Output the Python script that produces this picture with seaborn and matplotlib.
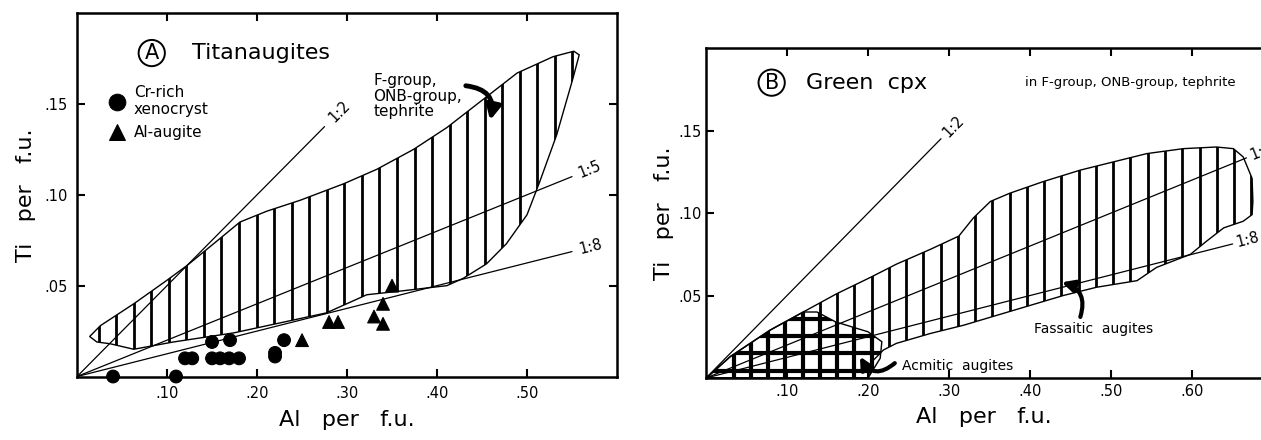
import numpy as np
import pandas as pd
import matplotlib.pyplot as plt
import seaborn as sns
from matplotlib.patches import Polygon

# ---- Panel A data: Titanaugites ----
CR_AL = [0.04, 0.11, 0.12, 0.128, 0.15, 0.17, 0.15, 0.159, 0.169, 0.18, 0.22, 0.22, 0.23]
CR_TI = [0.0, 0.0, 0.01, 0.01, 0.019, 0.02, 0.01, 0.01, 0.01, 0.01, 0.013, 0.011, 0.02]
AUG_AL = [0.25, 0.28, 0.29, 0.33, 0.34, 0.34, 0.35]
AUG_TI = [0.02, 0.03, 0.03, 0.033, 0.029, 0.04, 0.05]

# outline of the F-group / ONB-group / tephrite field (clockwise from left tip)
FIELD_A_X = [0.014, 0.026, 0.063, 0.100, 0.122, 0.159, 0.181, 0.211, 0.248, 0.296,
             0.333, 0.374, 0.411, 0.450, 0.489, 0.529, 0.552, 0.558, 0.551, 0.533,
             0.514, 0.500, 0.477, 0.455, 0.429, 0.411, 0.359, 0.322, 0.277, 0.174,
             0.107, 0.063, 0.037, 0.022]
FIELD_A_Y = [0.022, 0.028, 0.040, 0.053, 0.061, 0.076, 0.085, 0.091, 0.097, 0.106,
             0.114, 0.125, 0.137, 0.152, 0.167, 0.176, 0.179, 0.177, 0.164, 0.133,
             0.107, 0.089, 0.073, 0.062, 0.054, 0.050, 0.047, 0.045, 0.035, 0.024,
             0.019, 0.015, 0.018, 0.019]

# ---- Panel B data: Green cpx ----
FIELD_B_X = [0.0, 0.005, 0.030, 0.079, 0.120, 0.161, 0.203, 0.235, 0.277, 0.312,
             0.330, 0.351, 0.375, 0.416, 0.462, 0.503, 0.544, 0.589, 0.630, 0.651,
             0.663, 0.674, 0.675, 0.674, 0.663, 0.639, 0.618, 0.598, 0.577, 0.556,
             0.532, 0.482, 0.441, 0.400, 0.359, 0.318, 0.277, 0.235, 0.219, 0.205,
             0.200]
FIELD_B_Y = [0.0, 0.002, 0.013, 0.029, 0.040, 0.051, 0.061, 0.069, 0.078, 0.086,
             0.097, 0.107, 0.112, 0.119, 0.126, 0.131, 0.136, 0.139, 0.140, 0.139,
             0.134, 0.121, 0.107, 0.099, 0.095, 0.091, 0.083, 0.075, 0.071, 0.067,
             0.059, 0.055, 0.050, 0.044, 0.038, 0.032, 0.027, 0.021, 0.017, 0.010,
             0.0]
ACM_X = [0.0, 0.005, 0.030, 0.079, 0.120, 0.137, 0.160, 0.180, 0.200, 0.217, 0.215, 0.205, 0.200]
ACM_Y = [0.0, 0.002, 0.013, 0.029, 0.040, 0.040, 0.034, 0.031, 0.028, 0.022, 0.012, 0.004, 0.0]

# Ti:Al reference ratios and where each line stops
RATIOS = [2, 5, 8]
RATIO_LABELS = ["1:2", "1:5", "1:8"]
RATIO_END_A = [0.275, 0.55, 0.55]
RATIO_END_B = [0.29, 0.667, 0.65]

X_TICKS_A = [0.10, 0.20, 0.30, 0.40, 0.50]
X_LABELS_A = [".10", ".20", ".30", ".40", ".50"]
X_TICKS_B = [0.10, 0.20, 0.30, 0.40, 0.50, 0.60]
X_LABELS_B = [".10", ".20", ".30", ".40", ".50", ".60"]
Y_TICKS = [0.05, 0.10, 0.15]
Y_LABELS = [".05", ".10", ".15"]


def style_axes(ax, xlim, xticks, xlabels, show_right=True, xpad=7, ypad=7,
               xlabelpad=8, ylabelpad=6):
    ax.set_xlim(*xlim)
    ax.set_ylim(0, 0.2)
    ax.set_xticks(xticks, xlabels)
    ax.set_yticks(Y_TICKS, Y_LABELS)
    ax.tick_params(direction="in", length=6, width=1.5, top=True, right=show_right,
                   labelsize=10.5, colors="black")
    ax.tick_params(axis="x", pad=xpad)
    ax.tick_params(axis="y", pad=ypad)
    for sp in ax.spines.values():
        sp.set_linewidth(1.8)
        sp.set_color("black")
    if not show_right:
        ax.spines["right"].set_visible(False)
    ax.set_xlabel("Al   per   f.u.", fontsize=16, labelpad=xlabelpad, color="black")
    ax.set_ylabel("Ti   per   f.u.", fontsize=16, labelpad=ylabelpad, color="black")
    ax.grid(False)


def hatched_field(ax, xs, ys, start, step, lw, horizontal=None):
    poly = Polygon(np.column_stack([xs, ys]), closed=True, facecolor="none",
                   edgecolor="black", lw=1.0, zorder=3)
    ax.add_patch(poly)
    lc = ax.vlines(np.arange(start, max(xs), step), 0, 0.2, colors="black", lw=lw, zorder=2)
    lc.set_clip_path(poly)
    if horizontal is not None:
        h0, hstep = horizontal
        hc = ax.hlines(np.arange(h0, max(ys), hstep), 0, 1, colors="black", lw=lw, zorder=2)
        hc.set_clip_path(poly)
    return poly


def ratio_lines(ax, ends, label_dx):
    for r, lab, xe in zip(RATIOS, RATIO_LABELS, ends):
        ax.plot([0, xe], [0, xe / r], color="black", lw=0.9, zorder=4)
        # angle of the line on screen
        p0 = ax.transData.transform((0, 0))
        p1 = ax.transData.transform((xe, xe / r))
        ang = np.degrees(np.arctan2(p1[1] - p0[1], p1[0] - p0[0]))
        ax.text(xe + label_dx, (xe + label_dx) / r, lab, rotation=ang,
                rotation_mode="anchor", ha="left", va="center", fontsize=10.5, zorder=5)


sns.set_theme(style="ticks")
plt.rcParams["font.family"] = ["DejaVu Sans"]
plt.rcParams["text.color"] = "black"
plt.rcParams["axes.labelcolor"] = "black"

fig = plt.figure(figsize=(12.61, 4.4), dpi=100)
axA = fig.add_axes([0.0611, 0.1443, 0.4282, 0.826])
axB = fig.add_axes([0.5599, 0.1409, 0.4401, 0.750])

# ---------------- Panel A ----------------
hatched_field(axA, FIELD_A_X, FIELD_A_Y, 0.024, 0.0195, 2.0)

pts = pd.DataFrame({
    "Al": CR_AL + AUG_AL,
    "Ti": CR_TI + AUG_TI,
    "kind": ["Cr-rich\nxenocryst"] * len(CR_AL) + ["Al-augite"] * len(AUG_AL),
})
sns.scatterplot(data=pts, x="Al", y="Ti", style="kind",
                markers={"Cr-rich\nxenocryst": "o", "Al-augite": "^"},
                color="black", edgecolor="black", s=85, clip_on=False, zorder=6, ax=axA)
sns.move_legend(axA, "upper left", bbox_to_anchor=(0.02, 0.84), frameon=False, title=None,
                fontsize=11, handletextpad=0.1, labelspacing=0.5, markerscale=1.3)
style_axes(axA, (0, 0.6), X_TICKS_A, X_LABELS_A, xpad=7, ypad=7,
           xlabelpad=6, ylabelpad=6)
ratio_lines(axA, RATIO_END_A, 0.008)

axA.text(0.083, 0.178, "A", fontsize=15, ha="center", va="center",
         bbox=dict(boxstyle="circle,pad=0.15", fc="white", ec="black", lw=1.4))
axA.text(0.128, 0.178, "Titanaugites", fontsize=16, ha="left", va="center")
axA.text(0.329, 0.167, "F-group,\nONB-group,\ntephrite", fontsize=11, ha="left",
         va="top", linespacing=1.05)
axA.annotate("", xy=(0.459, 0.141), xytext=(0.432, 0.160),
             arrowprops=dict(arrowstyle="-|>,head_length=0.7,head_width=0.35", lw=3.5,
                             color="black", connectionstyle="arc3,rad=-0.55",
                             shrinkA=0, shrinkB=0))

# ---------------- Panel B ----------------
style_axes(axB, (0, 0.685), X_TICKS_B, X_LABELS_B, show_right=False, xpad=4, ypad=3,
           xlabelpad=6, ylabelpad=3)
hatched_field(axB, FIELD_B_X, FIELD_B_Y, 0.034, 0.0213, 2.0)
hatched_field(axB, ACM_X, ACM_Y, 0.034, 0.0213, 3.0, horizontal=(0.0045, 0.0104))
ratio_lines(axB, RATIO_END_B, 0.005)

axB.text(0.081, 0.179, "B", fontsize=15, ha="center", va="center",
         bbox=dict(boxstyle="circle,pad=0.15", fc="white", ec="black", lw=1.4))
axB.text(0.124, 0.179, "Green  cpx", fontsize=16, ha="left", va="center")
axB.text(0.394, 0.179, "in F-group, ONB-group, tephrite", fontsize=9.5, ha="left", va="center")
axB.text(0.405, 0.030, "Fassaitic  augites", fontsize=10, ha="left", va="center")
axB.annotate("", xy=(0.439, 0.058), xytext=(0.462, 0.037),
             arrowprops=dict(arrowstyle="-|>,head_length=0.6,head_width=0.3", lw=3,
                             color="black", connectionstyle="arc3,rad=0.5",
                             shrinkA=0, shrinkB=0))
axB.text(0.242, 0.007, "Acmitic  augites", fontsize=10, ha="left", va="center")
axB.annotate("", xy=(0.19, 0.013), xytext=(0.233, 0.009),
             arrowprops=dict(arrowstyle="-|>,head_length=0.6,head_width=0.3", lw=3,
                             color="black", connectionstyle="arc3,rad=-0.6",
                             shrinkA=0, shrinkB=0))

fig.savefig("out.png", dpi=100)
plt.close(fig)
